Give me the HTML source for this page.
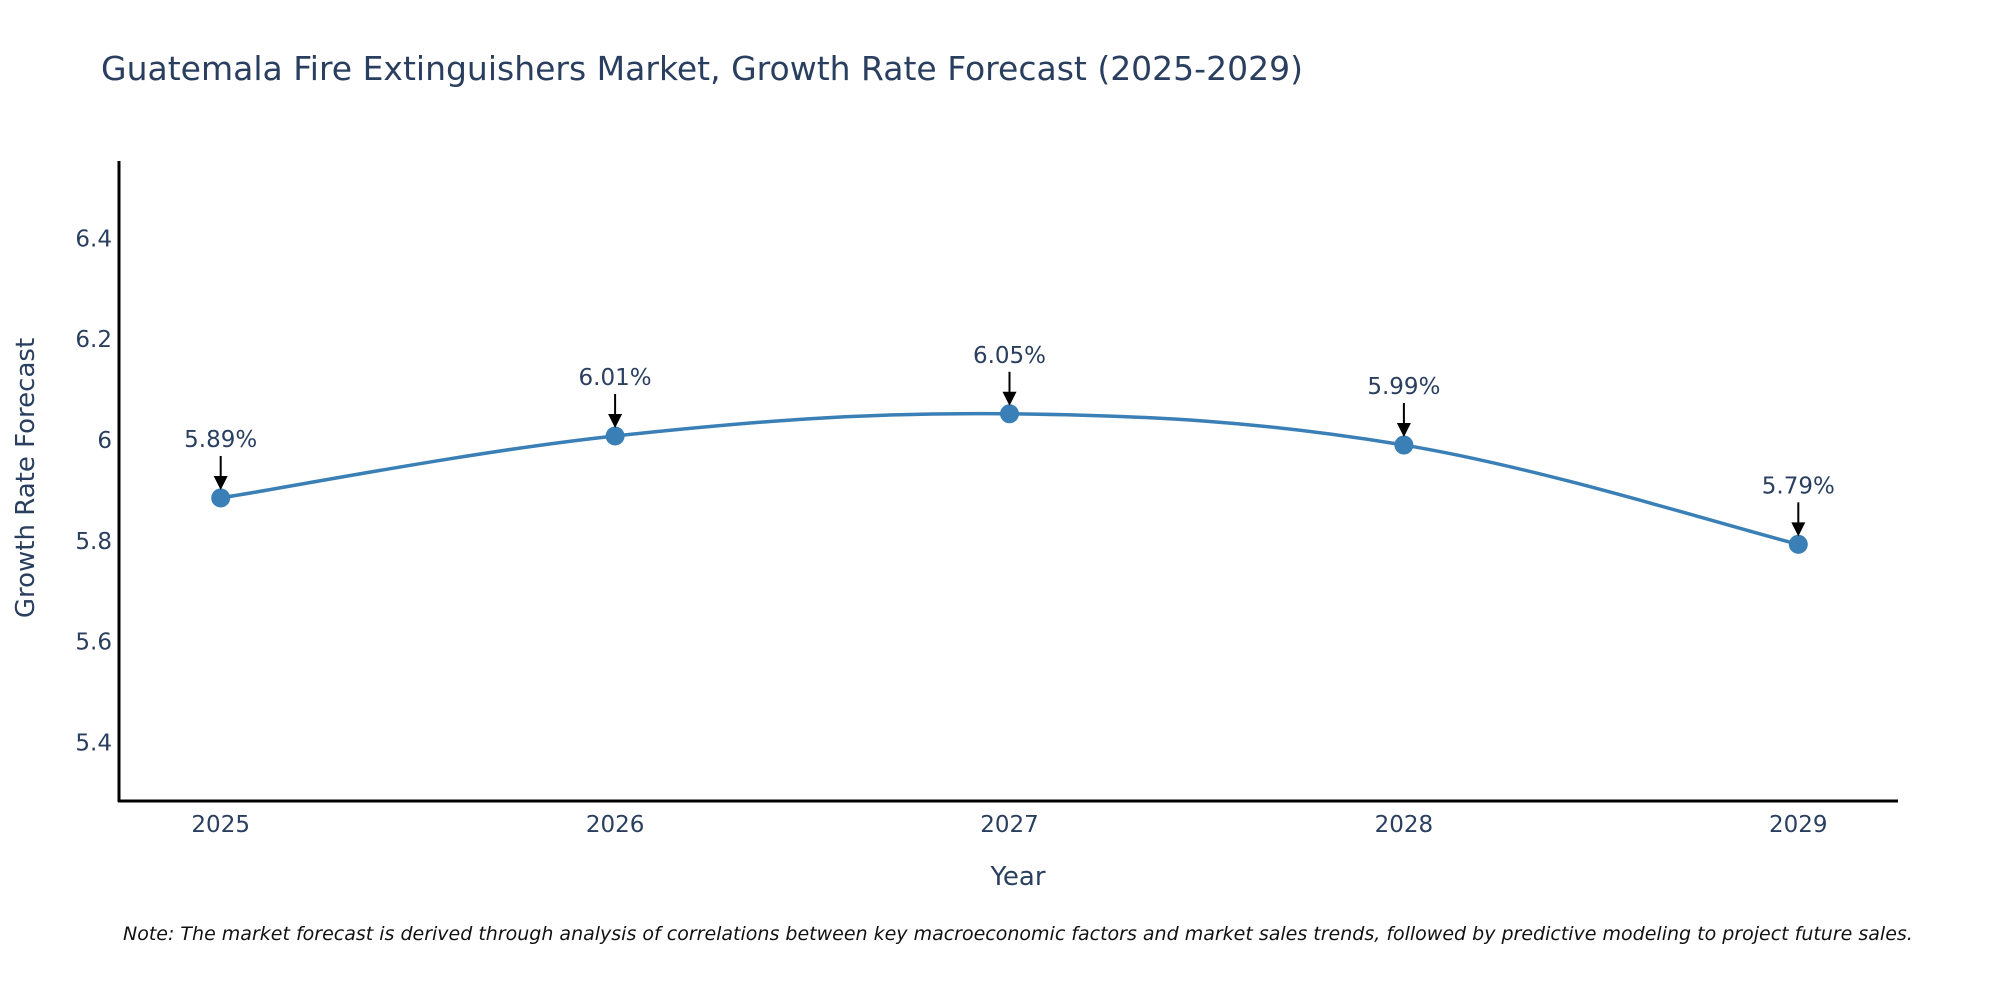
<!DOCTYPE html>
<html><head><meta charset="utf-8"><style>
body{margin:0;background:#fff;}
svg text{font-family:"DejaVu Sans","Liberation Sans",sans-serif;fill:#2a3f5f;}
</style></head><body>
<svg width="2000" height="1000" viewBox="0 0 2000 1000">
<text x="101" y="80" font-size="33">Guatemala Fire Extinguishers Market, Growth Rate Forecast (2025-2029)</text>
<g id="yticks"></g><g id="xticks"></g>
<line x1="119" y1="161" x2="119" y2="802" stroke="#000" stroke-width="3"/>
<line x1="118" y1="801" x2="1898" y2="801" stroke="#000" stroke-width="3"/>
<path id="line" fill="none" stroke="#3a7fb5" stroke-width="3.5"/>
<g id="pts"></g>
<text x="1018" y="885" font-size="26" text-anchor="middle">Year</text>
<text transform="translate(34,478) rotate(-90)" font-size="26" text-anchor="middle">Growth Rate Forecast</text>
<text x="123" y="940" font-size="19" font-style="italic" style="fill:#111">Note: The market forecast is derived through analysis of correlations between key macroeconomic factors and market sales trends, followed by predictive modeling to project future sales.</text>
</svg>
<script>
const years=[2025,2026,2027,2028,2029];
const values=[5.885,6.008,6.052,5.99,5.793];
const labels=["5.89%","6.01%","6.05%","5.99%","5.79%"];
const yTicks=[5.4,5.6,5.8,6,6.2,6.4];
const NS="http://www.w3.org/2000/svg";
function X(yr){return 220.7+(yr-2025)*394.4;}
function Y(v){return 440-(v-6)*504;}
function mk(t,a,p){const e=document.createElementNS(NS,t);for(const k in a)e.setAttribute(k,a[k]);p.appendChild(e);return e;}
const yt=document.getElementById('yticks');
yTicks.forEach(v=>{const t=mk('text',{x:112,y:Y(v)+8,'font-size':23,'text-anchor':'end'},yt);t.textContent=String(v);

});
const xt=document.getElementById('xticks');
years.forEach(yr=>{const t=mk('text',{x:X(yr),y:832,'font-size':23,'text-anchor':'middle'},xt);t.textContent=String(yr);

});
const P=years.map((y,i)=>[X(y),Y(values[i])]);
let d='M'+P[0][0]+','+P[0][1];
const s=0.18;
for(let i=0;i<P.length-1;i++){const p0=P[i-1]||P[i],p1=P[i],p2=P[i+1],p3=P[i+2]||P[i+1];
d+=' C'+(p1[0]+(p2[0]-p0[0])*s)+','+(p1[1]+(p2[1]-p0[1])*s)+' '+(p2[0]-(p3[0]-p1[0])*s)+','+(p2[1]-(p3[1]-p1[1])*s)+' '+p2[0]+','+p2[1];}
document.getElementById('line').setAttribute('d',d);
const g=document.getElementById('pts');
P.forEach((p,i)=>{const c=mk('circle',{cx:p[0],cy:p[1],r:9.5,fill:'#3a7fb5'},g);


const a=mk('line',{x1:p[0],y1:p[1]-42,x2:p[0],y2:p[1]-20,stroke:'#000','stroke-width':2},g);


const h=mk('polygon',{points:(p[0]-7)+','+(p[1]-22)+' '+(p[0]+7)+','+(p[1]-22)+' '+p[0]+','+(p[1]-8),fill:'#000'},g);


const t=mk('text',{x:p[0],y:p[1]-51,'font-size':23,'text-anchor':'middle'},g);t.textContent=labels[i];

});
</script>
</body></html>
